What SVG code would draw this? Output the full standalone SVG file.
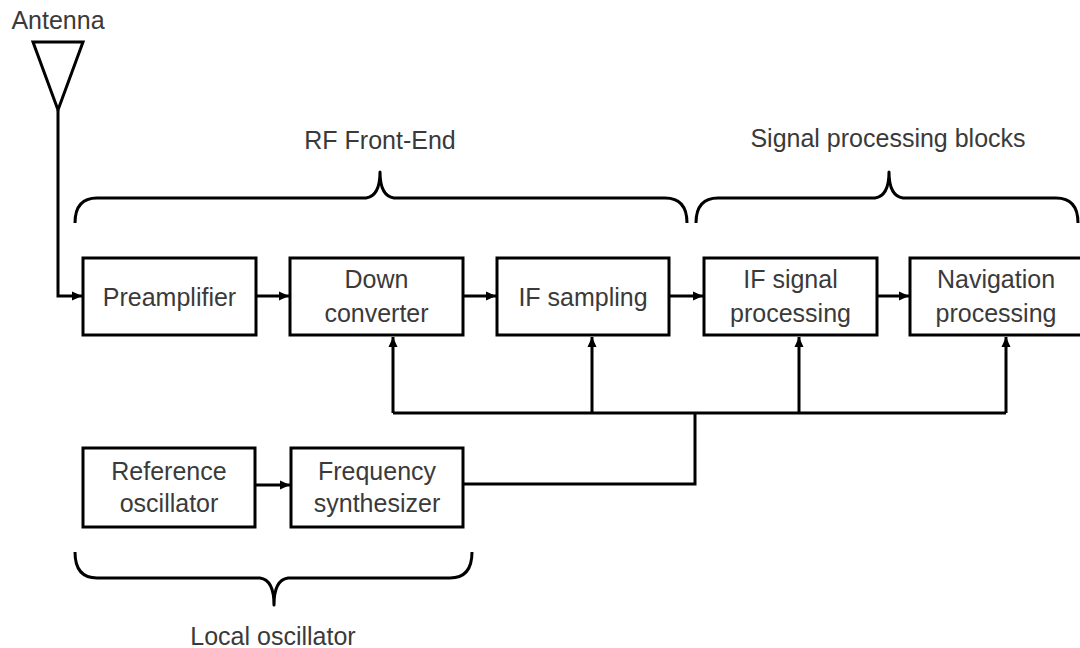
<svg xmlns="http://www.w3.org/2000/svg" width="1080" height="648" viewBox="0 0 1080 648">
<defs>
<style>
.box{fill:#fff;stroke:#000;stroke-width:3}
.ln{fill:none;stroke:#000;stroke-width:3}
.br{fill:none;stroke:#000;stroke-width:3;stroke-linejoin:round}
.t{font-family:"Liberation Sans",Arial,sans-serif;font-size:25px;fill:#3a3a3a;text-anchor:middle}
.arr{marker-end:url(#ah)}
</style>
<marker id="ah" markerUnits="userSpaceOnUse" markerWidth="11" markerHeight="10" refX="10" refY="5" orient="auto">
<path d="M0,0.5 L10,5 L0,9.5 z" fill="#000"/>
</marker>
</defs>
<rect width="1080" height="648" fill="#fff"/>

<g id="antenna">
<text class="t" x="58" y="29">Antenna</text>
<path class="ln" d="M33,42 L83,42 L58,110 Z" stroke-linejoin="miter"/>
</g>

<g id="rf-brace">
<path class="br" d="M75,223 Q75,198 97,198 L366,198 Q380,196 380,172 Q380,196 394,198 L665,198 Q687,198 687,223"/>
<text class="t" x="380" y="149">RF Front-End</text>
</g>

<g id="sp-brace">
<path class="br" d="M696,223 Q696,198 718,198 L875,198 Q889,196 889,172 Q889,196 903,198 L1056,198 Q1078,198 1078,223"/>
<text class="t" x="888" y="147">Signal processing blocks</text>
</g>

<g id="lo-brace">
<path class="br" d="M75,552 Q75,578 97,578 L260,578 Q274,580 274,605 Q274,580 288,578 L450,578 Q472,578 472,552"/>
<text class="t" x="273" y="645">Local oscillator</text>
</g>

<g id="connectors">
<path class="ln arr" d="M58,110 L58,296 L82,296"/>
<path class="ln arr" d="M256,296 L289,296"/>
<path class="ln arr" d="M463,296 L496,296"/>
<path class="ln arr" d="M670,296 L703,296"/>
<path class="ln arr" d="M877,296 L909,296"/>
<path class="ln arr" d="M255,485 L290,485"/>
<path class="ln" d="M463,484 L695,484 L695,413"/>
<path class="ln" d="M393,413 L1006,413"/>
<path class="ln arr" d="M393,413 L393,337"/>
<path class="ln arr" d="M592,413 L592,337"/>
<path class="ln arr" d="M799,413 L799,337"/>
<path class="ln arr" d="M1006,413 L1006,337"/>
</g>

<g id="preamplifier">
<rect class="box" x="83" y="258" width="173" height="77"/>
<text class="t" x="169.5" y="306">Preamplifier</text>
</g>
<g id="down-converter">
<rect class="box" x="290" y="258" width="173" height="77"/>
<text class="t" x="376.5" y="288">Down</text>
<text class="t" x="376.5" y="322">converter</text>
</g>
<g id="if-sampling">
<rect class="box" x="497" y="258" width="172" height="77"/>
<text class="t" x="583" y="306">IF sampling</text>
</g>
<g id="if-signal-processing">
<rect class="box" x="704" y="258" width="173" height="77"/>
<text class="t" x="790.5" y="288">IF signal</text>
<text class="t" x="790.5" y="322">processing</text>
</g>
<g id="navigation-processing">
<rect class="box" x="910" y="258" width="173" height="77"/>
<text class="t" x="996" y="288">Navigation</text>
<text class="t" x="996" y="322">processing</text>
</g>
<g id="reference-oscillator">
<rect class="box" x="83" y="448" width="172" height="79"/>
<text class="t" x="169" y="480">Reference</text>
<text class="t" x="169" y="512">oscillator</text>
</g>
<g id="frequency-synthesizer">
<rect class="box" x="291" y="448" width="172" height="79"/>
<text class="t" x="377" y="480">Frequency</text>
<text class="t" x="377" y="512">synthesizer</text>
</g>
</svg>
